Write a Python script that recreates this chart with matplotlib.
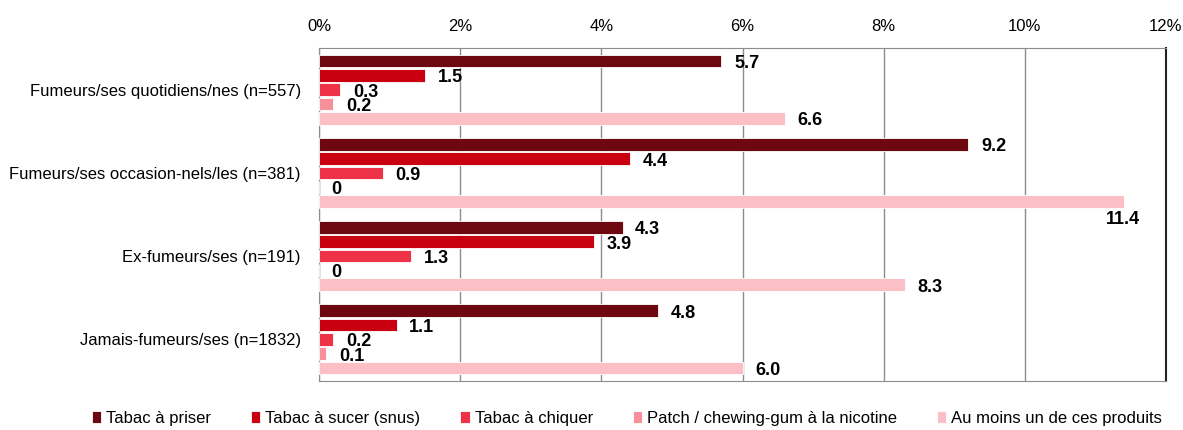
import matplotlib.pyplot as plt
import numpy as np

plt.rcParams['font.family'] = ['Liberation Sans Narrow', 'Liberation Sans', 'DejaVu Sans']

categories = ["Fumeurs/ses quotidiens/nes (n=557)",
              "Fumeurs/ses occasion-nels/les (n=381)",
              "Ex-fumeurs/ses (n=191)",
              "Jamais-fumeurs/ses (n=1832)"]
series = ["Tabac à priser", "Tabac à sucer (snus)", "Tabac à chiquer",
          "Patch / chewing-gum à la nicotine", "Au moins un de ces produits"]
priser = [5.7, 9.2, 4.3, 4.8]
sucer = [1.5, 4.4, 3.9, 1.1]
chiquer = [0.3, 0.9, 1.3, 0.2]
patch = [0.2, 0.0, 0.0, 0.1]
au_moins = [6.6, 11.4, 8.3, 6.0]
labels = [["5.7", "9.2", "4.3", "4.8"],
          ["1.5", "4.4", "3.9", "1.1"],
          ["0.3", "0.9", "1.3", "0.2"],
          ["0.2", "0", "0", "0.1"],
          ["6.6", "11.4", "8.3", "6.0"]]
colors = ["#6E0810", "#C8000F", "#EE3348", "#F7909A", "#FBBFC5"]

values = [priser, sucer, chiquer, patch, au_moins]

fig = plt.figure(figsize=(11.83, 4.30), dpi=100)
ax = fig.add_axes([319 / 1183, 49 / 430, 847 / 1183, 333 / 430])

n = len(categories)
step = 0.172
bh = 0.152
for j, vals in enumerate(values):
    y = np.arange(n) + (j - 2) * step
    ax.barh(y, vals, height=bh, color=colors[j], edgecolor="white", linewidth=0.6,
            label=series[j], zorder=3)
    for i, v in enumerate(vals):
        if v > 11:
            # trop long : étiquette sous la barre
            ax.text(v + 0.23, y[i] + 0.22, labels[j][i], ha="right", va="center",
                    fontsize=13, fontweight="bold")
        else:
            ax.text(v + 0.18, y[i] + 0.03, labels[j][i], ha="left", va="center",
                    fontsize=13, fontweight="bold")

ax.set_xlim(0, 12)
ax.set_ylim(n - 0.5, -0.5)
ax.set_yticks(np.arange(n))
ax.set_yticklabels(categories, fontsize=12)
ax.set_xticks(np.arange(0, 13, 2))
ax.set_xticklabels(["{}%".format(t) for t in range(0, 13, 2)], fontsize=12)
ax.xaxis.tick_top()
ax.tick_params(axis="y", length=0, pad=13)
ax.tick_params(axis="x", length=0, pad=10)
ax.grid(axis="x", color="#8C8C8C", linewidth=1, zorder=0)
for s in ["top", "bottom", "left"]:
    ax.spines[s].set_color("#8C8C8C")
ax.spines["right"].set_color("#222222")
ax.spines["right"].set_linewidth(1.5)

fig.legend(loc="center", ncol=5, frameon=False, fontsize=12,
           bbox_to_anchor=(0.53, 0.027), handlelength=0.55, handleheight=0.75,
           handletextpad=0.3, columnspacing=2.4)

plt.savefig("out.png")
